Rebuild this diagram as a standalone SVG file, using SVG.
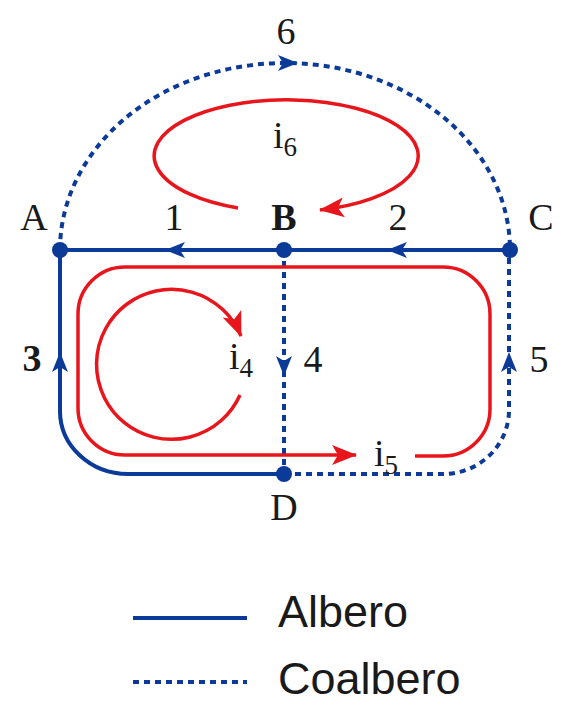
<svg xmlns="http://www.w3.org/2000/svg" width="566" height="707" viewBox="0 0 566 707">
<style>
.bl{fill:none;stroke:#0b3a99;stroke-width:4}
.bd{fill:none;stroke:#0b3a99;stroke-width:4;stroke-dasharray:6 5}
.rd{fill:none;stroke:#e8161c;stroke-width:3.5}
.lbl{font-family:"Liberation Serif","Times New Roman",serif;font-size:38px;fill:#1a1a1a;text-anchor:middle}
.sub{font-size:27px}
.lg{font-family:"Liberation Sans",Arial,sans-serif;font-size:45px;fill:#1a1a1a}
.node{fill:#0b3a99}
.ah{fill:#0b3a99}
</style>
<defs>
<path id="bah" d="M3,0 L-17,-8 L-12,0 L-17,8 Z"/>
<marker id="ra" markerUnits="userSpaceOnUse" markerWidth="30" markerHeight="30" refX="2" refY="0" viewBox="-26 -15 30 30" orient="auto">
<path d="M3,0 L-22,-10 L-16,0 L-22,10 Z" fill="#e8161c"/>
</marker>
</defs>
<rect width="566" height="707" fill="#ffffff"/>
<g id="connectors">
<path id="e6" class="bd" d="M60,250 A225,187 0 0 1 510,250"/>
<path id="e1" class="bl" d="M284,250 H60"/>
<path id="e2" class="bl" d="M510,250 H284"/>
<path id="e3" class="bl" d="M284,474 H128 A68,63 0 0 1 60,411 V250"/>
<path id="e4" class="bd" d="M284,250 V474"/>
<path id="e5" class="bd" d="M284,474 H443 A66,64 0 0 0 509,410 V250"/>
<use href="#bah" class="ah" transform="translate(295,63)"/>
<use href="#bah" class="ah" transform="translate(168,250) rotate(180)"/>
<use href="#bah" class="ah" transform="translate(390,250) rotate(180)"/>
<use href="#bah" class="ah" transform="translate(60,355) rotate(-90)"/>
<use href="#bah" class="ah" transform="translate(284,373) rotate(90)"/>
<use href="#bah" class="ah" transform="translate(509,355) rotate(-90)"/>
</g>
<g id="loops">
<path id="i6loop" class="rd" d="M238,208 A132,56 0 1 1 320,210" marker-end="url(#ra)"/>
<path id="i4loop" class="rd" d="M240,395 A75,75 0 1 1 241,336" marker-end="url(#ra)"/>
<path id="i5loop" class="rd" d="M415,456 H443 A47,47 0 0 0 490,409 V314 A47,47 0 0 0 443,267 H125 A47,47 0 0 0 78,314 V408 A47,47 0 0 0 125,455 H356" marker-end="url(#ra)"/>
</g>
<g id="nodeA"><circle class="node" cx="60" cy="250" r="8"/><text class="lbl" x="34" y="230">A</text></g>
<g id="nodeB"><circle class="node" cx="284" cy="250" r="8"/><text class="lbl" x="284" y="230" font-weight="bold">B</text></g>
<g id="nodeC"><circle class="node" cx="510" cy="250" r="8"/><text class="lbl" x="541" y="230">C</text></g>
<g id="nodeD"><circle class="node" cx="284" cy="474" r="8"/><text class="lbl" x="284" y="520">D</text></g>
<g id="labels">
<text class="lbl" x="286" y="44">6</text>
<text class="lbl" x="174" y="230">1</text>
<text class="lbl" x="398" y="230">2</text>
<text class="lbl" x="32" y="371" font-weight="bold">3</text>
<text class="lbl" x="313" y="372">4</text>
<text class="lbl" x="539" y="372">5</text>
<text class="lbl" x="285" y="148">i<tspan class="sub" dy="8">6</tspan></text>
<text class="lbl" x="241" y="369">i<tspan class="sub" dy="8">4</tspan></text>
<text class="lbl" x="386" y="466">i<tspan class="sub" dy="8">5</tspan></text>
</g>
<g id="legend">
<line class="bl" x1="133" y1="618" x2="247" y2="618"/>
<text class="lg" x="278" y="627">Albero</text>
<line class="bd" x1="133" y1="682" x2="247" y2="682"/>
<text class="lg" x="278" y="694">Coalbero</text>
</g>
</svg>
